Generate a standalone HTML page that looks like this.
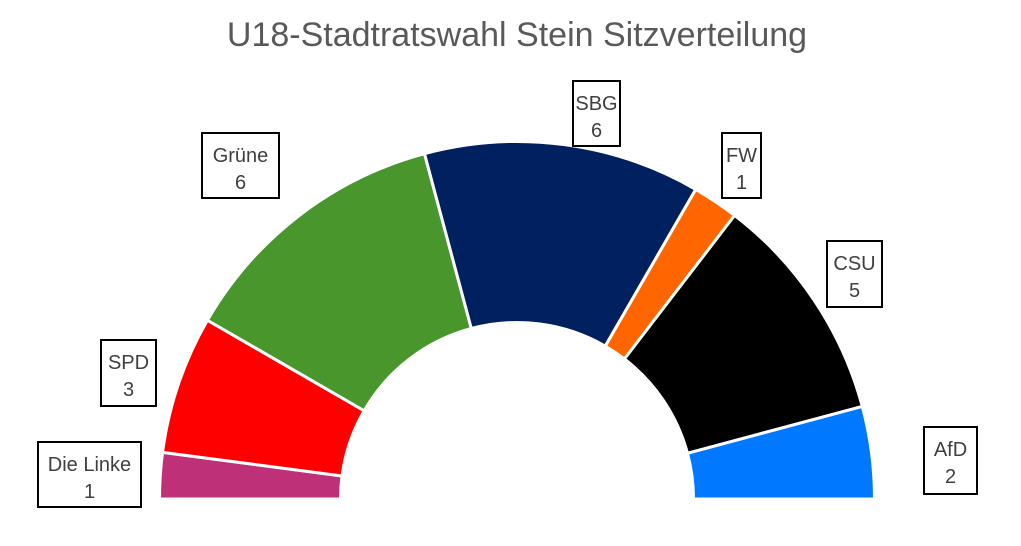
<!DOCTYPE html>
<html><head><meta charset="utf-8"><style>
body{margin:0;background:#fff;width:1021px;height:541px;overflow:hidden;font-family:"Liberation Sans",sans-serif}
</style></head><body>
<svg width="1021" height="541" xmlns="http://www.w3.org/2000/svg">
<text x="517" y="46" text-anchor="middle" font-size="34" fill="#595959" font-family="Liberation Sans, sans-serif">U18-Stadtratswahl Stein Sitzverteilung</text>
<g id="s" stroke="#fff" stroke-width="3" stroke-linejoin="miter"></g>
<g font-size="20" fill="#404040" text-anchor="middle" font-family="Liberation Sans, sans-serif">
<rect x="38" y="442" width="103" height="65" fill="#fff" stroke="#000" stroke-width="2"/>
<text x="89.5" y="471">Die Linke</text><text x="89.5" y="498">1</text>
<rect x="101" y="340" width="55" height="66" fill="#fff" stroke="#000" stroke-width="2"/>
<text x="128.5" y="369">SPD</text><text x="128.5" y="396">3</text>
<rect x="202" y="133" width="77" height="65" fill="#fff" stroke="#000" stroke-width="2"/>
<text x="240.5" y="162">Grüne</text><text x="240.5" y="189">6</text>
<rect x="573" y="81" width="47" height="65" fill="#fff" stroke="#000" stroke-width="2"/>
<text x="596.5" y="110">SBG</text><text x="596.5" y="137">6</text>
<rect x="722" y="133" width="39" height="65" fill="#fff" stroke="#000" stroke-width="2"/>
<text x="741.5" y="162">FW</text><text x="741.5" y="189">1</text>
<rect x="827" y="241" width="55" height="66" fill="#fff" stroke="#000" stroke-width="2"/>
<text x="854.5" y="270">CSU</text><text x="854.5" y="297">5</text>
<rect x="924" y="427" width="53" height="67" fill="#fff" stroke="#000" stroke-width="2"/>
<text x="950.5" y="456">AfD</text><text x="950.5" y="483">2</text>
</g>
</svg>
<script>
var cx=517,cy=499,ro=357.5,ri=176.5;
var d=[[1,"#be3179"],[3,"#ff0000"],[6,"#48962c"],[6,"#00205f"],[1,"#ff6600"],[5,"#000000"],[2,"#0078ff"]];
var g=document.getElementById("s"),a=180,h="";
function p(r,t){t=t*Math.PI/180;return (cx+r*Math.cos(t)).toFixed(2)+" "+(cy-r*Math.sin(t)).toFixed(2);}
d.forEach(function(e){var b=a-e[0]*7.5;
h+='<path fill="'+e[1]+'" d="M'+p(ro,a)+' A'+ro+' '+ro+' 0 0 1 '+p(ro,b)+' L'+p(ri,b)+' A'+ri+' '+ri+' 0 0 0 '+p(ri,a)+' Z"/>';a=b;});
g.innerHTML=h;
</script>
</body></html>
